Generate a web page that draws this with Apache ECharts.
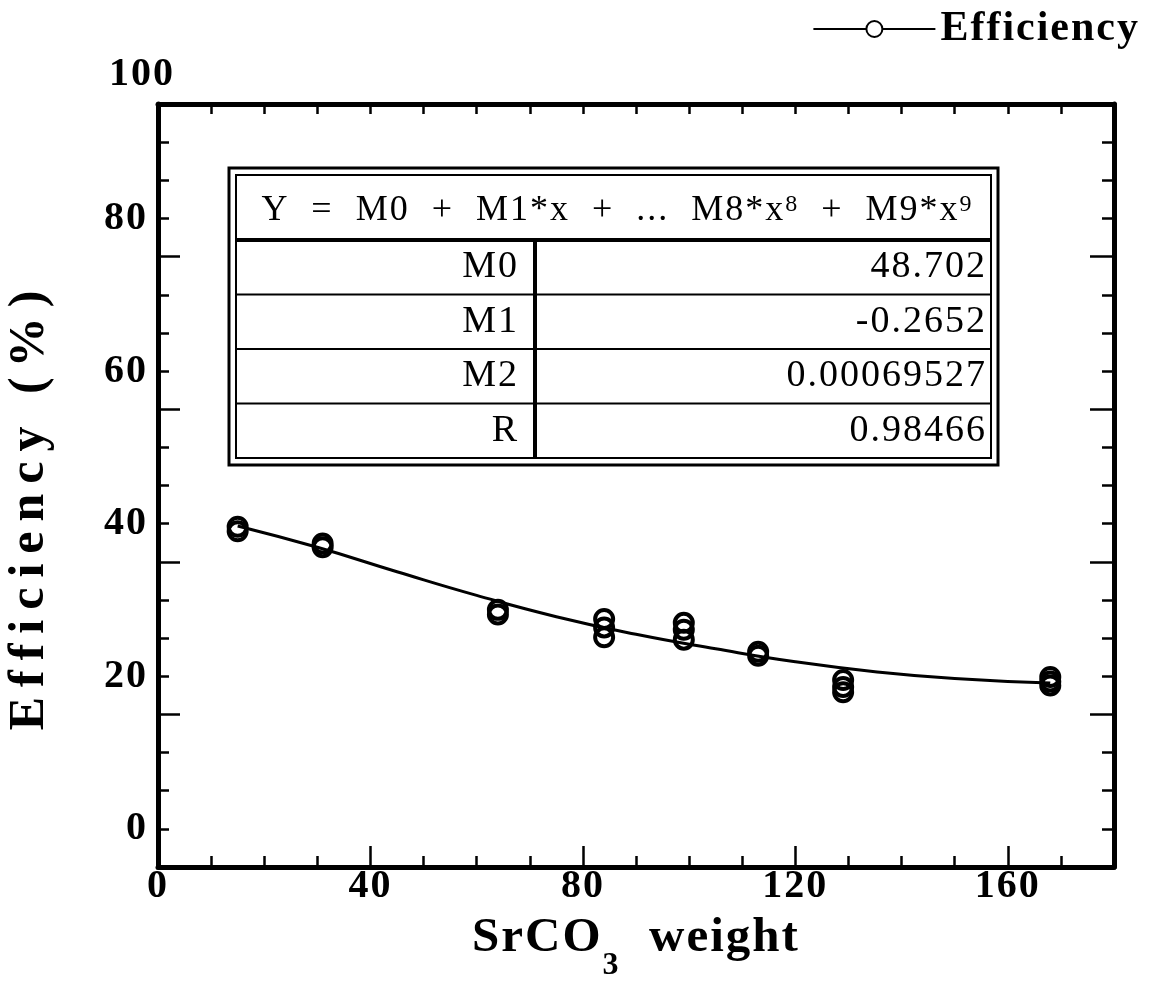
<!DOCTYPE html>
<html><head><meta charset="utf-8">
<script src="https://cdn.jsdelivr.net/npm/echarts@6/dist/echarts.min.js"></script>
<style>html,body{margin:0;padding:0;background:#fff}#c{width:1153px;height:992px}</style>
</head><body><div id="c"></div>
<script>
// ---- data ----
const pointX = [15, 15, 31, 31, 64, 64, 84, 84, 84, 99, 99, 99, 113, 113, 129, 129, 129, 168, 168, 168];
const pointY = [39.6, 39.0, 37.4, 36.9, 28.7, 28.1, 27.5, 26.4, 25.1, 27.0, 26.1, 24.8, 23.2, 22.7, 19.5, 18.6, 17.9, 19.9, 19.3, 18.8];
const fitX = [15, 30, 45, 60, 75, 90, 105, 120, 135, 150, 168];
const fitY = [39.7, 36.9, 33.7, 30.6, 27.8, 25.5, 23.6, 21.9, 20.6, 19.7, 19.1];
const tableHeader = ['Y  =  M0  +  M1*x  +  ...  M8*x', '8', '  +  M9*x', '9'];
const tableLabels = ['M0', 'M1', 'M2', 'R'];
const tableValues = ['48.702', '-0.2652', '0.00069527', '0.98466'];
const seriesName = 'Efficiency';
const xTitle = ['SrCO', '3', '  weight'];
const yTitle = 'Efficiency (%)';

// letter spacing of the original typesetting (applied to canvas text drawing and measuring)
(function () {
  const P = CanvasRenderingContext2D.prototype;
  if (!('letterSpacing' in P)) return;
  const spacingFor = f => /(^|\s)50px/.test(f) ? '10px' : '2px';
  ['fillText', 'strokeText', 'measureText'].forEach(fn => {
    const orig = P[fn];
    P[fn] = function () {
      const prev = this.letterSpacing;
      this.letterSpacing = spacingFor(this.font);
      try { return orig.apply(this, arguments); } finally { this.letterSpacing = prev; }
    };
  });
})();

// ---- chart ----
const FONT = 'Liberation Serif';
const chart = echarts.init(document.getElementById('c'));
const scatterData = pointX.map((x, i) => [x, pointY[i]]);
const fitData = fitX.map((x, i) => [x, fitY[i]]);
const black = '#000';
const tickLabel = {fontFamily: FONT, fontWeight: 'bold', fontSize: 40, color: black};
const axisLine = {show: true, onZero: false, lineStyle: {color: black, width: 5}};
const noLine = {show: false, onZero: false};
function tick(len) { return {show: true, inside: true, length: len, lineStyle: {color: black, width: 2.5}}; }

// table layout
const T = {x0: 229, y0: 168, x1: 998, y1: 465, inset: 7, headBottom: 240, divX: 535, rowH: 54.5};
const graphics = [];
graphics.push({type: 'rect', shape: {x: T.x0, y: T.y0, width: T.x1 - T.x0, height: T.y1 - T.y0}, style: {fill: '#fff', stroke: black, lineWidth: 3}});
graphics.push({type: 'rect', shape: {x: T.x0 + T.inset, y: T.y0 + T.inset, width: T.x1 - T.x0 - 2 * T.inset, height: T.y1 - T.y0 - 2 * T.inset}, style: {fill: 'none', stroke: black, lineWidth: 2}});
graphics.push({type: 'line', shape: {x1: T.x0 + T.inset, y1: T.headBottom, x2: T.x1 - T.inset, y2: T.headBottom}, style: {stroke: black, lineWidth: 4}});
graphics.push({type: 'line', shape: {x1: T.divX, y1: T.headBottom, x2: T.divX, y2: T.y1 - T.inset}, style: {stroke: black, lineWidth: 4}});
const tFont = {fontFamily: FONT, fontSize: 38};
graphics.push({type: 'text', style: {
  x: (T.x0 + T.x1) / 2 + 4, y: 212,
  text: '{m|' + tableHeader[0] + '}{s|' + tableHeader[1] + '}{m|' + tableHeader[2] + '}{s|' + tableHeader[3] + '}',
  align: 'center', verticalAlign: 'middle', textAlign: 'center', textVerticalAlign: 'middle', fill: black,
  rich: {m: {fontFamily: FONT, fontSize: 36, lineHeight: 40, verticalAlign: 'top', fill: black},
         s: {fontFamily: FONT, fontSize: 24, lineHeight: 24, verticalAlign: 'top', fill: black}}
}});
tableLabels.forEach((lab, i) => {
  const top = T.headBottom + i * T.rowH;
  const cy = top + T.rowH / 2;
  if (i > 0) graphics.push({type: 'line', shape: {x1: T.x0 + T.inset, y1: top, x2: T.x1 - T.inset, y2: top}, style: {stroke: black, lineWidth: 2}});
  graphics.push({type: 'text', style: Object.assign({x: T.divX - 16, y: cy, text: lab, align: 'right', verticalAlign: 'middle', textAlign: 'right', textVerticalAlign: 'middle', fill: black}, tFont)});
  graphics.push({type: 'text', style: Object.assign({x: T.x1 - T.inset - 4, y: cy, text: tableValues[i], align: 'right', verticalAlign: 'middle', textAlign: 'right', textVerticalAlign: 'middle', fill: black}, tFont)});
});

const gridBase = {left: 158, right: 39, containLabel: false, outerBoundsMode: 'none'};
const option = {
  animation: false,
  backgroundColor: '#fff',
  grid: [
    Object.assign({top: 104, bottom: 125}, gridBase),
    Object.assign({top: 66, bottom: 163}, gridBase),
    Object.assign({top: 75, bottom: 154}, gridBase)
  ],
  legend: {
    data: [seriesName], right: 8, top: 2, itemWidth: 122, itemHeight: 20, itemGap: 10,
    textStyle: {fontFamily: FONT, fontWeight: 'bold', fontSize: 42, color: black},
    lineStyle: {width: 2, color: black}
  },
  xAxis: [
    {gridIndex: 0, type: 'value', position: 'bottom', min: 0, max: 180, interval: 10,
     axisLine: axisLine, axisTick: tick(11), axisLabel: {show: false}, splitLine: {show: false},
     name: '{a|' + xTitle[0] + '}{b|' + xTitle[1] + '}{a|' + xTitle[2] + '}', nameLocation: 'middle', nameGap: 46,
     nameTextStyle: {rich: {
       a: {fontFamily: FONT, fontWeight: 'bold', fontSize: 49, lineHeight: 60, verticalAlign: 'top', color: black},
       b: {fontFamily: FONT, fontWeight: 'bold', fontSize: 32, lineHeight: 32, verticalAlign: 'top', padding: [36, 0, 0, 0], color: black}
     }}},
    {gridIndex: 0, type: 'value', position: 'bottom', min: 0, max: 180, interval: 40,
     axisLine: noLine, axisTick: tick(21), axisLabel: Object.assign({margin: -1, showMaxLabel: false}, tickLabel), splitLine: {show: false}},
    {gridIndex: 0, type: 'value', position: 'top', min: 0, max: 180, interval: 10,
     axisLine: axisLine, axisTick: tick(10), axisLabel: {show: false}, splitLine: {show: false}},
    {gridIndex: 1, type: 'value', show: false, min: 0, max: 180},
    {gridIndex: 2, type: 'value', show: false, min: 0, max: 180}
  ],
  yAxis: [
    {gridIndex: 0, type: 'value', position: 'left', min: -5, max: 95, interval: 5,
     axisLine: axisLine, axisTick: tick(11), axisLabel: {show: false}, splitLine: {show: false},
     name: yTitle, nameLocation: 'middle', nameGap: 98, nameRotate: 90,
     nameTextStyle: {fontFamily: FONT, fontWeight: 'bold', fontSize: 50, color: black, padding: [0, 40, 0, 0]}},
    {gridIndex: 0, type: 'value', position: 'left', min: -5, max: 95, interval: 20,
     axisLine: noLine, axisTick: tick(22), axisLabel: {show: false}, splitLine: {show: false}},
    {gridIndex: 0, type: 'value', position: 'right', min: -5, max: 95, interval: 5,
     axisLine: axisLine, axisTick: tick(12), axisLabel: {show: false}, splitLine: {show: false}},
    {gridIndex: 0, type: 'value', position: 'right', min: -5, max: 95, interval: 20,
     axisLine: noLine, axisTick: tick(24), axisLabel: {show: false}, splitLine: {show: false}},
    {gridIndex: 1, type: 'value', position: 'left', min: 0, max: 100, interval: 20,
     axisLine: noLine, axisTick: {show: false}, axisLabel: Object.assign({margin: 10, showMaxLabel: false}, tickLabel), splitLine: {show: false}},
    {gridIndex: 2, type: 'value', position: 'left', offset: -29, min: 0, max: 100, interval: 100,
     axisLine: noLine, axisTick: {show: false}, axisLabel: Object.assign({margin: 12, showMinLabel: false}, tickLabel), splitLine: {show: false}}
  ],
  series: [
    {name: seriesName, type: 'line', xAxisIndex: 0, yAxisIndex: 0, data: fitData,
     smooth: 0.5, symbol: 'circle', showSymbol: false, z: 2,
     lineStyle: {color: black, width: 3}, itemStyle: {color: '#fff', borderColor: black, borderWidth: 2}},
    {name: 'points', type: 'scatter', xAxisIndex: 0, yAxisIndex: 0, data: scatterData,
     symbol: 'circle', symbolSize: 18, z: 3,
     itemStyle: {color: 'rgba(255,255,255,0)', borderColor: black, borderWidth: 4, opacity: 1}}
  ],
  graphic: graphics
};
chart.setOption(option);
</script></body></html>
